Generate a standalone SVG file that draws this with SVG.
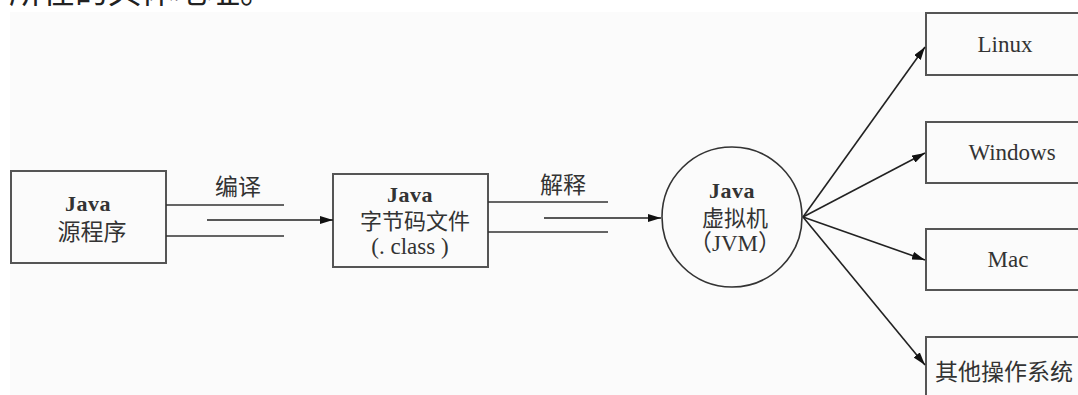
<svg xmlns="http://www.w3.org/2000/svg" width="1078" height="395" viewBox="0 0 1078 395">
<style>
.t{font-family:"Liberation Serif","Noto Sans CJK SC",serif;font-size:23px;fill:#333;text-anchor:middle}
.j{font-weight:bold;font-size:22px;letter-spacing:0.5px}
.c{font-size:22px}
.box{fill:none;stroke:#555;stroke-width:2}
.ln{stroke:#333;stroke-width:1.6;fill:none}
.ar{stroke:#222;stroke-width:1.6;fill:none;marker-end:url(#ah)}
</style>
<defs>
<marker id="ah" markerUnits="userSpaceOnUse" markerWidth="14" markerHeight="8" refX="13" refY="4" orient="auto">
<path d="M0,0 L13,4 L0,8 Z" fill="#111"/>
</marker>
</defs>
<rect x="0" y="0" width="1078" height="395" fill="#fff"/>
<rect x="10" y="12" width="1068" height="383" fill="#fbfbfb"/>
<text x="-24" y="3" style="font-family:'Noto Sans CJK SC',sans-serif;font-size:33px;fill:#222">令所在的具体地址。</text>
<g id="src">
<rect class="box" x="11" y="171" width="155" height="92"/>
<text class="t j" x="88" y="211">Java</text>
<text class="t" x="92" y="240">源程序</text>
</g>
<g id="bytecode">
<rect class="box" x="333" y="174" width="155" height="93"/>
<text class="t j" x="410" y="202">Java</text>
<text class="t c" x="415" y="229">字节码文件</text>
<text class="t" x="410" y="254">(. class )</text>
</g>
<g id="jvm">
<circle cx="732" cy="217" r="70" fill="none" stroke="#333" stroke-width="1.6"/>
<text class="t j" x="732" y="198">Java</text>
<text class="t c" x="735" y="226">虚拟机</text>
<text class="t" x="735" y="251">（JVM）</text>
</g>
<g id="linux">
<rect class="box" x="926" y="13" width="170" height="62"/>
<text class="t" x="1005" y="52">Linux</text>
</g>
<g id="windows">
<rect class="box" x="926" y="122" width="170" height="61"/>
<text class="t" x="1012" y="160">Windows</text>
</g>
<g id="mac">
<rect class="box" x="926" y="229" width="170" height="61"/>
<text class="t" x="1008" y="267">Mac</text>
</g>
<g id="other">
<rect class="box" x="926" y="337" width="170" height="80"/>
<text class="t" x="1004" y="380">其他操作系统</text>
</g>
<g id="connectors">
<line class="ln" x1="166" y1="205" x2="284" y2="205"/>
<line class="ln" x1="166" y1="236" x2="284" y2="236"/>
<line class="ar" x1="207" y1="220" x2="333" y2="220"/>
<text class="t" x="238" y="195">编译</text>
<line class="ln" x1="488" y1="202" x2="608" y2="202"/>
<line class="ln" x1="488" y1="232" x2="608" y2="232"/>
<line class="ar" x1="544" y1="218" x2="661" y2="218"/>
<text class="t" x="563" y="193">解释</text>
<line class="ar" x1="803" y1="217" x2="925" y2="47"/>
<line class="ar" x1="803" y1="217" x2="925" y2="153"/>
<line class="ar" x1="803" y1="217" x2="925" y2="260"/>
<line class="ar" x1="803" y1="217" x2="925" y2="365"/>
</g>
</svg>
